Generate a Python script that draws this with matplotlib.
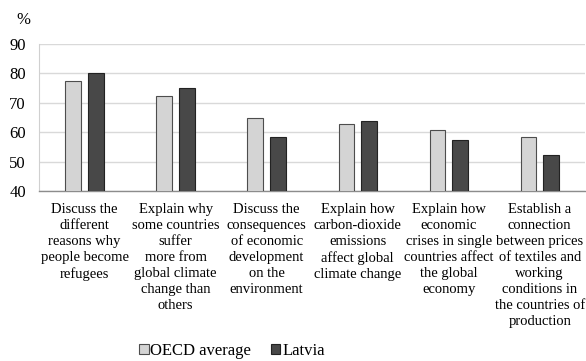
import matplotlib
matplotlib.use("Agg")
import matplotlib.pyplot as plt
import numpy as np
from matplotlib.patches import Patch

categories = [
    "Discuss the\ndifferent\nreasons why\npeople become\nrefugees",
    "Explain why\nsome countries\nsuffer\nmore from\nglobal climate\nchange than\nothers",
    "Discuss the\nconsequences\nof economic\ndevelopment\non the\nenvironment",
    "Explain how\ncarbon-dioxide\nemissions\naffect global\nclimate change",
    "Explain how\neconomic\ncrises in single\ncountries affect\nthe global\neconomy",
    "Establish a\nconnection\nbetween prices\nof textiles and\nworking\nconditions in\nthe countries of\nproduction",
]
oecd = [77.4, 72.3, 65.0, 62.9, 60.7, 58.2]
latvia = [80.2, 75.0, 58.2, 63.7, 57.5, 52.2]
series_names = ["OECD average", "Latvia"]
yticks = [40, 50, 60, 70, 80, 90]

plt.rcParams["font.family"] = ["Liberation Serif", "DejaVu Serif"]

fig = plt.figure(figsize=(5.86, 3.61), dpi=100)
ax = fig.add_axes([0.0666, 0.471, 0.932, 0.407])

x = np.arange(len(categories))
w = 0.17
off = 0.125
c_oecd = "#d4d4d4"
c_lat = "#484848"
ax.bar(x - off, oecd, w, bottom=0, color=c_oecd, edgecolor="#4d4d4d", linewidth=0.8, zorder=3)
ax.bar(x + off, latvia, w, bottom=0, color=c_lat, edgecolor="#222222", linewidth=0.8, zorder=3)

ax.set_xlim(-0.5, len(categories) - 0.5)
ax.set_ylim(40, 90)
ax.set_yticks(yticks)
ax.set_yticklabels([str(t) for t in yticks], fontsize=12)
ax.tick_params(axis="y", length=0, pad=9.5)
ax.set_xticks(x)
ax.set_xticklabels(categories, fontsize=10.5, linespacing=1.3, va="top")
ax.tick_params(axis="x", length=0, pad=8.5)
ax.yaxis.grid(True, color="#d9d9d9", linewidth=1.0, zorder=0)
for s in ["top", "right"]:
    ax.spines[s].set_visible(False)
ax.spines["left"].set_color("#d0d0d0")
ax.spines["bottom"].set_color("#8c8c8c")
ax.spines["bottom"].set_linewidth(1.0)

fig.text(23 / 586, 1 - 20 / 361, "%", fontsize=12, ha="center", va="center")

handles = [Patch(facecolor=c_oecd, edgecolor="#4d4d4d", linewidth=0.8),
           Patch(facecolor=c_lat, edgecolor="#222222", linewidth=0.8)]
fig.legend(handles, series_names, loc="center", bbox_to_anchor=(232 / 586, 1 - 351 / 361),
           ncol=2, frameon=False, fontsize=12, handlelength=0.55, handleheight=0.55,
           handletextpad=0.1, columnspacing=1.2, borderpad=0)

fig.savefig("out.png", dpi=100)
